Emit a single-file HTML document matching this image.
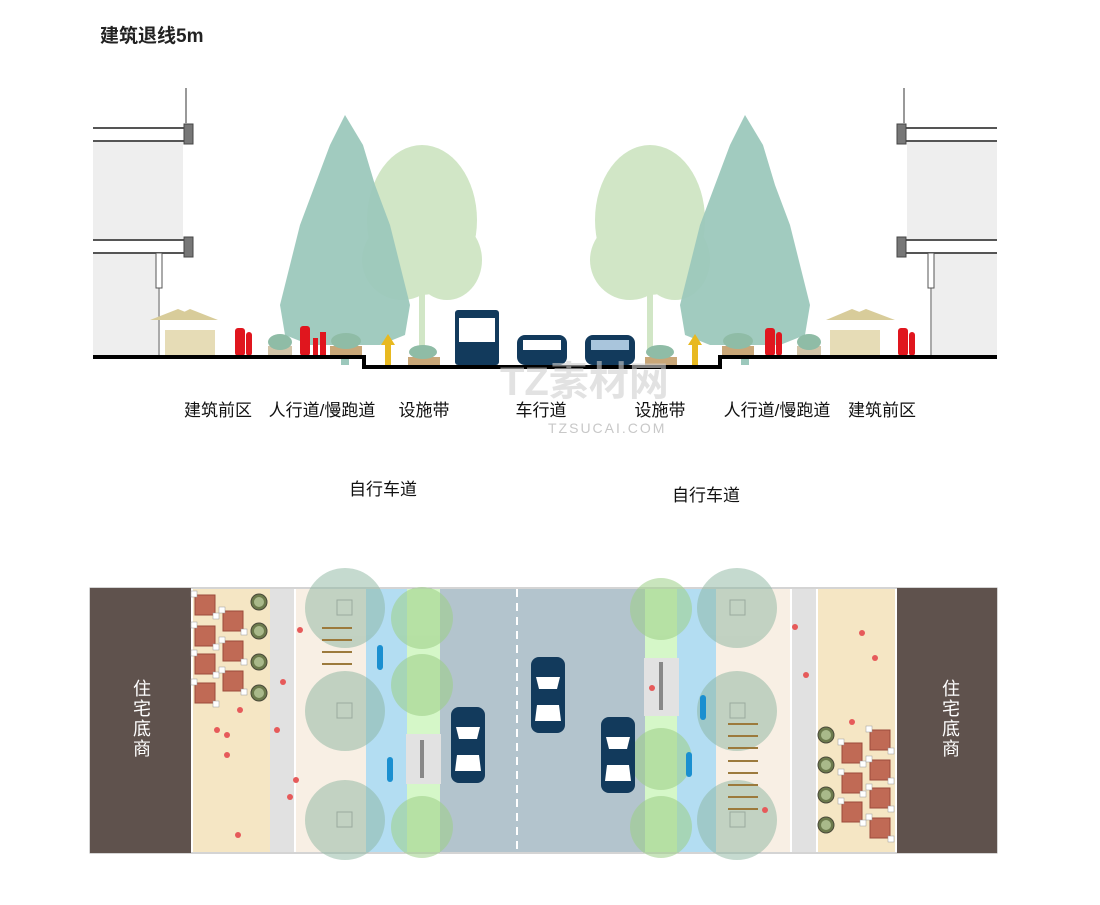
<!DOCTYPE html>
<html><head><meta charset="utf-8"><style>
body{margin:0;background:#fff;width:1100px;height:905px;overflow:hidden}
svg{display:block}
text{font-family:"Liberation Sans","Noto Sans CJK SC",sans-serif}
</style></head><body>
<svg width="1100" height="905" viewBox="0 0 1100 905" xmlns="http://www.w3.org/2000/svg">
<defs>
<g id="bigtree">
 <path d="M0,-230 L18,-200 L30,-160 L45,-120 L55,-80 L65,-40 L60,-10 L35,0 L10,0 L-10,0 L-35,0 L-60,-10 L-65,-40 L-55,-80 L-45,-120 L-30,-160 L-15,-200 Z" fill="#9cc8bc" opacity="0.95"/>
 <rect x="-4" y="-10" width="8" height="30" fill="#9cc8bc"/>
</g>
<g id="lighttree" fill="#c9e2bd" opacity="0.85">
 <ellipse cx="0" cy="-80" rx="55" ry="75"/>
 <ellipse cx="-20" cy="-40" rx="40" ry="40"/>
 <ellipse cx="25" cy="-40" rx="35" ry="40"/>
 <rect x="-3" y="-10" width="6" height="60"/>
</g>
<g id="car">
 <rect x="-17" y="-38" width="34" height="76" rx="8" fill="#123a5c"/>
 <path d="M-12,-18 L12,-18 L9,-6 L-9,-6 Z" fill="#fff"/>
 <path d="M-11,10 L11,10 L13,26 L-13,26 Z" fill="#fff"/>
</g>
<g id="ctable">
 <rect x="-10" y="-10" width="20" height="20" fill="#c06a55" stroke="#9b4a3a"/>
 <rect x="-14" y="-14" width="6" height="6" fill="#fff" stroke="#999" stroke-width="0.5"/>
 <rect x="8" y="8" width="6" height="6" fill="#fff" stroke="#999" stroke-width="0.5"/>
</g>
<g id="planter"><circle r="8" fill="#6c7a4c" stroke="#4a4a3a"/><circle r="5" fill="#a9b98a"/></g>
</defs>

<text x="100" y="42" font-size="19" font-weight="bold" fill="#222">建筑退线5m</text>

<rect x="93" y="140" width="90" height="100" fill="#eeeeee"/>
<rect x="93" y="253" width="65" height="104" fill="#eeeeee"/>
<line x1="93" y1="128" x2="186" y2="128" stroke="#555" stroke-width="2"/>
<line x1="93" y1="141" x2="186" y2="141" stroke="#555" stroke-width="2"/>
<line x1="93" y1="240" x2="186" y2="240" stroke="#555" stroke-width="2"/>
<line x1="93" y1="253" x2="186" y2="253" stroke="#555" stroke-width="2"/>
<rect x="184" y="124" width="9" height="20" fill="#777" stroke="#444"/>
<rect x="184" y="237" width="9" height="20" fill="#777" stroke="#444"/>
<line x1="186" y1="88" x2="186" y2="124" stroke="#999" stroke-width="2"/>
<rect x="156" y="253" width="6" height="35" fill="#fff" stroke="#555"/>
<line x1="159" y1="288" x2="159" y2="357" stroke="#555"/>
<rect x="907" y="140" width="90" height="100" fill="#eeeeee"/>
<rect x="932" y="253" width="65" height="104" fill="#eeeeee"/>
<line x1="904" y1="128" x2="997" y2="128" stroke="#555" stroke-width="2"/>
<line x1="904" y1="141" x2="997" y2="141" stroke="#555" stroke-width="2"/>
<line x1="904" y1="240" x2="997" y2="240" stroke="#555" stroke-width="2"/>
<line x1="904" y1="253" x2="997" y2="253" stroke="#555" stroke-width="2"/>
<rect x="897" y="124" width="9" height="20" fill="#777" stroke="#444"/>
<rect x="897" y="237" width="9" height="20" fill="#777" stroke="#444"/>
<line x1="904" y1="88" x2="904" y2="124" stroke="#999" stroke-width="2"/>
<rect x="928" y="253" width="6" height="35" fill="#fff" stroke="#555"/>
<line x1="931" y1="288" x2="931" y2="357" stroke="#555"/>

<use href="#lighttree" x="422" y="300"/>
<use href="#bigtree" x="345" y="345"/>
<use href="#lighttree" x="650" y="300"/>
<use href="#bigtree" x="745" y="345"/>

<g fill="#d8cc9a">
<path d="M150,320 L178,309 L205,320 Z"/><path d="M168,320 L190,309 L218,320 Z"/>
<path d="M826,320 L852,309 L880,320 Z"/><path d="M840,320 L866,309 L895,320 Z"/>
</g>
<g fill="#e6dcb6"><rect x="165" y="330" width="50" height="25"/><rect x="830" y="330" width="50" height="25"/></g>
<g fill="#e0161e">
<rect x="235" y="328" width="10" height="28" rx="3"/><rect x="246" y="332" width="6" height="24" rx="3"/>
<rect x="300" y="326" width="10" height="30" rx="3"/><rect x="313" y="338" width="5" height="18"/><rect x="320" y="332" width="6" height="24"/>
<rect x="765" y="328" width="10" height="28" rx="3"/><rect x="776" y="332" width="6" height="24" rx="3"/>
<rect x="898" y="328" width="10" height="28" rx="3"/><rect x="909" y="332" width="6" height="24" rx="3"/>
</g>
<g>
<rect x="268" y="346" width="24" height="10" fill="#d2c4a8"/><ellipse cx="280" cy="342" rx="12" ry="8" fill="#8fbca6"/>
<rect x="330" y="346" width="32" height="10" fill="#c9a778"/><ellipse cx="346" cy="341" rx="15" ry="8" fill="#8fbca6"/>
<rect x="408" y="357" width="32" height="9" fill="#c9a778"/><ellipse cx="423" cy="352" rx="14" ry="7" fill="#8fbca6"/>
<rect x="645" y="357" width="32" height="9" fill="#c9a778"/><ellipse cx="660" cy="352" rx="14" ry="7" fill="#8fbca6"/>
<rect x="722" y="346" width="32" height="10" fill="#c9a778"/><ellipse cx="738" cy="341" rx="15" ry="8" fill="#8fbca6"/>
<rect x="797" y="346" width="24" height="10" fill="#d2c4a8"/><ellipse cx="809" cy="342" rx="12" ry="8" fill="#8fbca6"/>
</g>
<g fill="#e8b920">
<path d="M385,365 L385,345 L381,345 L388,334 L395,345 L391,345 L391,365 Z"/>
<path d="M692,365 L692,345 L688,345 L695,334 L702,345 L698,345 L698,365 Z"/>
</g>
<rect x="455" y="310" width="44" height="55" rx="3" fill="#123a5c"/>
<rect x="459" y="318" width="36" height="24" fill="#fff"/>
<rect x="517" y="335" width="50" height="30" rx="8" fill="#123a5c"/><rect x="523" y="340" width="38" height="10" fill="#fff"/>
<rect x="585" y="335" width="50" height="30" rx="8" fill="#123a5c"/><rect x="591" y="340" width="38" height="10" fill="#a9c5dc"/>

<path d="M93,357 L364,357 L364,367 L720,367 L720,357 L997,357" fill="none" stroke="#000" stroke-width="4"/>

<text x="500" y="395" font-size="40" font-weight="bold" fill="#d0d0d0" opacity="0.6">TZ素材网</text>
<text x="548" y="433" font-size="14" fill="#c8c8c8" letter-spacing="2">TZSUCAI.COM</text>

<g font-size="17" fill="#111" text-anchor="middle">
<text x="218" y="416">建筑前区</text>
<text x="322" y="416">人行道/慢跑道</text>
<text x="424" y="416">设施带</text>
<text x="541" y="416">车行道</text>
<text x="660" y="416">设施带</text>
<text x="777" y="416">人行道/慢跑道</text>
<text x="882" y="416">建筑前区</text>
<text x="383" y="495">自行车道</text>
<text x="706" y="501">自行车道</text>
</g>

<rect x="90" y="588" width="907" height="265" fill="#fff" stroke="#aaa"/>
<rect x="90" y="588" width="101" height="265" fill="#5f524d"/>
<rect x="193" y="589" width="77" height="263" fill="#f5e6c4"/>
<rect x="270" y="589" width="24" height="263" fill="#e1e1e1"/>
<rect x="296" y="589" width="70" height="263" fill="#f8efe4"/>
<rect x="366" y="589" width="41" height="263" fill="#b3ddf2"/>
<rect x="407" y="589" width="33" height="263" fill="#d5f7c8"/>
<rect x="440" y="589" width="205" height="263" fill="#b3c4cd"/>
<line x1="517" y1="589" x2="517" y2="852" stroke="#fff" stroke-width="2" stroke-dasharray="8,6"/>
<rect x="645" y="589" width="32" height="263" fill="#d5f7c8"/>
<rect x="677" y="589" width="39" height="263" fill="#b3ddf2"/>
<rect x="716" y="589" width="74" height="263" fill="#f8efe4"/>
<rect x="792" y="589" width="24" height="263" fill="#e1e1e1"/>
<rect x="818" y="589" width="77" height="263" fill="#f5e6c4"/>
<rect x="897" y="588" width="100" height="265" fill="#5f524d"/>

<g fill="#8bb5a0" opacity="0.5">
<circle cx="345" cy="608" r="40"/><circle cx="345" cy="711" r="40"/><circle cx="345" cy="820" r="40"/>
<circle cx="737" cy="608" r="40"/><circle cx="737" cy="711" r="40"/><circle cx="737" cy="820" r="40"/>
</g>
<g fill="#9ccf86" opacity="0.55">
<circle cx="422" cy="618" r="31"/><circle cx="422" cy="685" r="31"/><circle cx="422" cy="827" r="31"/>
<circle cx="661" cy="609" r="31"/><circle cx="661" cy="759" r="31"/><circle cx="661" cy="827" r="31"/>
</g>
<g fill="none" stroke="#9aaa9e"><rect x="337" y="600" width="15" height="15"/><rect x="337" y="703" width="15" height="15"/><rect x="337" y="812" width="15" height="15"/>
<rect x="730" y="600" width="15" height="15"/><rect x="730" y="703" width="15" height="15"/><rect x="730" y="812" width="15" height="15"/></g>
<rect x="406" y="734" width="35" height="50" fill="#e2e2e2"/><rect x="420" y="740" width="4" height="38" fill="#888"/>
<rect x="644" y="658" width="35" height="58" fill="#e2e2e2"/><rect x="659" y="662" width="4" height="48" fill="#888"/>
<g fill="#1a8fd0"><rect x="377" y="645" width="6" height="25" rx="3"/><rect x="387" y="757" width="6" height="25" rx="3"/>
<rect x="700" y="695" width="6" height="25" rx="3"/><rect x="686" y="752" width="6" height="25" rx="3"/></g>
<use href="#car" x="468" y="745"/>
<use href="#car" x="548" y="695"/>
<use href="#car" x="618" y="755"/>
<use href="#ctable" x="205" y="605"/><use href="#ctable" x="233" y="621"/><use href="#ctable" x="205" y="636"/>
<use href="#ctable" x="233" y="651"/><use href="#ctable" x="205" y="664"/><use href="#ctable" x="233" y="681"/><use href="#ctable" x="205" y="693"/>
<use href="#ctable" x="880" y="740"/><use href="#ctable" x="852" y="753"/><use href="#ctable" x="880" y="770"/>
<use href="#ctable" x="852" y="783"/><use href="#ctable" x="880" y="798"/><use href="#ctable" x="852" y="812"/><use href="#ctable" x="880" y="828"/>
<use href="#planter" x="259" y="602"/><use href="#planter" x="259" y="631"/><use href="#planter" x="259" y="662"/><use href="#planter" x="259" y="693"/>
<use href="#planter" x="826" y="735"/><use href="#planter" x="826" y="765"/><use href="#planter" x="826" y="795"/><use href="#planter" x="826" y="825"/>
<g fill="#9c7a3c"><rect x="322" y="627" width="30" height="2"/><rect x="322" y="639" width="30" height="2"/><rect x="322" y="651" width="30" height="2"/><rect x="322" y="663" width="30" height="2"/>
<rect x="728" y="723" width="30" height="2"/><rect x="728" y="735" width="30" height="2"/><rect x="728" y="747" width="30" height="2"/><rect x="728" y="760" width="30" height="2"/><rect x="728" y="772" width="30" height="2"/><rect x="728" y="784" width="30" height="2"/><rect x="728" y="796" width="30" height="2"/><rect x="728" y="808" width="30" height="2"/></g>
<g fill="#e65a5a">
<circle cx="300" cy="630" r="3"/><circle cx="283" cy="682" r="3"/><circle cx="277" cy="730" r="3"/><circle cx="217" cy="730" r="3"/><circle cx="227" cy="735" r="3"/><circle cx="227" cy="755" r="3"/><circle cx="296" cy="780" r="3"/><circle cx="290" cy="797" r="3"/><circle cx="238" cy="835" r="3"/><circle cx="240" cy="710" r="3"/>
<circle cx="795" cy="627" r="3"/><circle cx="806" cy="675" r="3"/><circle cx="862" cy="633" r="3"/><circle cx="875" cy="658" r="3"/><circle cx="765" cy="810" r="3"/><circle cx="852" cy="722" r="3"/><circle cx="652" cy="688" r="3"/>
</g>
<g font-size="18" fill="#fff" text-anchor="middle">
<text x="142" y="695">住</text><text x="142" y="715">宅</text><text x="142" y="735">底</text><text x="142" y="755">商</text>
<text x="951" y="695">住</text><text x="951" y="715">宅</text><text x="951" y="735">底</text><text x="951" y="755">商</text>
</g>
</svg>
</body></html>
